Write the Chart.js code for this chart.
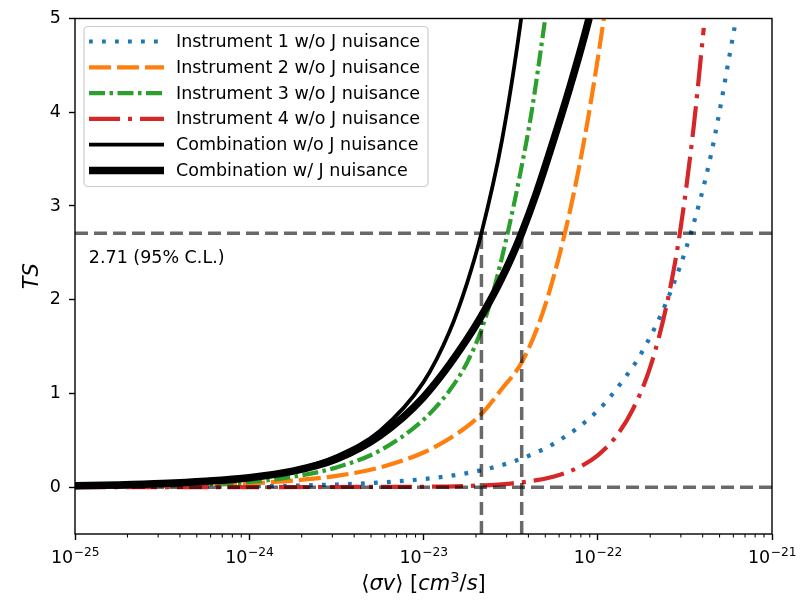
<!DOCTYPE html>
<html><head><meta charset="utf-8">
<script src="https://cdn.jsdelivr.net/npm/chart.js@4.4.1/dist/chart.umd.min.js"></script>
<style>html,body{margin:0;padding:0;background:#fff}</style>
</head><body>
<canvas id="c" width="808" height="600"></canvas>
<script>
// ---- data ----
const seriesNames = ['Instrument 1 w/o J nuisance','Instrument 2 w/o J nuisance','Instrument 3 w/o J nuisance','Instrument 4 w/o J nuisance','Combination w/o J nuisance','Combination w/ J nuisance'];

const inst1SigmaV = [1e-25, 1e-24, 3.16e-24, 5.62e-24, 1e-23, 1.78e-23, 3.16e-23, 5.62e-23, 1e-22, 1.41e-22, 1.78e-22, 2.51e-22, 3.42e-22, 4.47e-22, 6.12e-22];
const inst1TS     = [0.001, 0.009, 0.028, 0.049, 0.086, 0.15, 0.264, 0.466, 0.815, 1.15, 1.43, 2.0, 2.71, 3.55, 4.92];

const inst2SigmaV = [1e-25, 3.16e-25, 1e-24, 1.78e-24, 3.16e-24, 5.62e-24, 1e-23, 1.47e-23, 2.15e-23, 2.82e-23, 3.66e-23, 4.79e-23, 6.38e-23, 8.32e-23, 1.08e-22, 1.26e-22];
const inst2TS     = [0.005, 0.015, 0.04, 0.07, 0.12, 0.21, 0.37, 0.54, 0.78, 1.05, 1.33, 1.84, 2.66, 3.68, 4.98, 5.9];

const inst3SigmaV = [1e-25, 3.16e-25, 1e-24, 1.78e-24, 3.16e-24, 5.62e-24, 1e-23, 1.41e-23, 1.78e-23, 2.15e-23, 2.51e-23, 3.04e-23, 3.55e-23, 4.17e-23, 4.95e-23, 5.62e-23];
const inst3TS     = [0.005, 0.018, 0.055, 0.11, 0.21, 0.39, 0.72, 1.03, 1.33, 1.68, 2.08, 2.71, 3.30, 4.00, 4.95, 5.70];

const inst4SigmaV = [1e-25, 1e-23, 1.78e-23, 3.16e-23, 5.62e-23, 7.94e-23, 1e-22, 1.26e-22, 1.58e-22, 2.0e-22, 2.51e-22, 2.96e-22, 3.55e-22, 4.06e-22];
const inst4TS     = [0.0, 0.004, 0.013, 0.038, 0.114, 0.22, 0.34, 0.53, 0.82, 1.28, 1.98, 2.71, 3.84, 4.90];

const combNoJSigmaV = [1e-25, 3.16e-25, 1e-24, 1.78e-24, 3.16e-24, 5.62e-24, 1e-23, 1.41e-23, 1.78e-23, 2.15e-23, 2.82e-23, 3.61e-23, 3.98e-23];
const combNoJTS     = [0.015, 0.04, 0.10, 0.18, 0.33, 0.60, 1.12, 1.66, 2.18, 2.71, 3.70, 4.96, 5.60];

const combJSigmaV = [1e-25, 1.78e-25, 3.16e-25, 5.62e-25, 1e-24, 1.78e-24, 3.16e-24, 5.62e-24, 1e-23, 1.78e-23, 2.51e-23, 3.16e-23, 3.66e-23, 4.47e-23, 5.62e-23, 7.08e-23, 8.91e-23, 1.12e-22];
const combJTS     = [0.015, 0.024, 0.038, 0.062, 0.10, 0.17, 0.30, 0.55, 0.96, 1.58, 2.05, 2.43, 2.71, 3.15, 3.72, 4.33, 5.00, 5.80];

const thresholdTS = [0, 2.71];              // horizontal reference lines
const limitSigmaV = [2.15e-23, 3.66e-23];   // vertical limit lines
const annotText = '2.71 (95% C.L.)';
const annotSigmaV = 1.2e-25, annotTS = 2.39;

const xMajorTicks = [1e-25, 1e-24, 1e-23, 1e-22, 1e-21];
const xTickBase = '10';
const xTickExps = ['\u221225', '\u221224', '\u221223', '\u221222', '\u221221'];
const yTicks = [0, 1, 2, 3, 4, 5];
const xMinorTicks = [];
for (let e = -25; e < -21; e++) for (let m = 2; m <= 9; m++) xMinorTicks.push(m * Math.pow(10, e));

// ---- styling ----
const FONT = "'DejaVu Sans'";
const GRAY = 'rgba(0,0,0,0.59)';
const toPts = (xs, ys) => xs.map((v, i) => ({x: v, y: ys[i]}));

const curveStyles = [
  {color: '#1f77b4', width: 4.2, dash: [3.8, 9.2]},
  {color: '#ff7f0e', width: 4.2, dash: [22, 6]},
  {color: '#2ca02c', width: 4.2, dash: [16, 4.5, 3.5, 4.5]},
  {color: '#d62728', width: 4.2, dash: [31, 8, 4, 8]},
  {color: '#000000', width: 3.8, dash: []},
  {color: '#000000', width: 7.5, dash: []}
];
const curveData = [
  toPts(inst1SigmaV, inst1TS), toPts(inst2SigmaV, inst2TS), toPts(inst3SigmaV, inst3TS),
  toPts(inst4SigmaV, inst4TS), toPts(combNoJSigmaV, combNoJTS), toPts(combJSigmaV, combJTS)
];

const datasets = curveData.map((d, i) => ({
  label: seriesNames[i], data: d,
  borderColor: curveStyles[i].color, borderWidth: curveStyles[i].width,
  borderDash: curveStyles[i].dash, borderCapStyle: 'butt', borderJoinStyle: 'round',
  pointRadius: 0, fill: false, cubicInterpolationMode: 'monotone',
  clip: 0, order: 6 - i
}));
thresholdTS.forEach(t => datasets.push({
  label: 'h' + t, data: [{x: 1e-25, y: t}, {x: 1e-21, y: t}],
  borderColor: GRAY, borderWidth: 3.5, borderDash: [13, 6], pointRadius: 0,
  tension: 0, clip: 0, order: 0
}));
limitSigmaV.forEach(v => datasets.push({
  label: 'v' + v, data: [{x: v, y: -0.5}, {x: v, y: thresholdTS[1]}],
  borderColor: GRAY, borderWidth: 3.5, borderDash: [13, 6], pointRadius: 0,
  tension: 0, clip: 0, order: 0
}));

const extras = {
  id: 'extras',
  afterDraw(chart) {
    const {ctx, chartArea: a, scales: {x, y}} = chart;
    ctx.save();
    // annotation
    ctx.fillStyle = '#000';
    ctx.font = `17.5px ${FONT}`;
    ctx.textAlign = 'left'; ctx.textBaseline = 'alphabetic';
    ctx.fillText(annotText, x.getPixelForValue(annotSigmaV), y.getPixelForValue(annotTS));

    // frame
    ctx.strokeStyle = '#000'; ctx.lineWidth = 1.4; ctx.setLineDash([]);
    ctx.strokeRect(a.left, a.top, a.right - a.left, a.bottom - a.top);
    // minor ticks
    ctx.lineWidth = 1.05;
    xMinorTicks.forEach(v => {
      const px = x.getPixelForValue(v);
      ctx.beginPath(); ctx.moveTo(px, a.bottom); ctx.lineTo(px, a.bottom + 3.5); ctx.stroke();
    });
    // major tick labels 10^n
    xMajorTicks.forEach((v, i) => {
      const px = x.getPixelForValue(v);
      ctx.font = `17.5px ${FONT}`;
      const wb = ctx.measureText(xTickBase).width;
      ctx.font = `12.25px ${FONT}`;
      const we = ctx.measureText(xTickExps[i]).width;
      const x0 = px - (wb + we) / 2;
      ctx.textAlign = 'left';
      ctx.font = `17.5px ${FONT}`;
      ctx.fillText(xTickBase, x0, 563);
      ctx.font = `12.25px ${FONT}`;
      ctx.fillText(xTickExps[i], x0 + wb + 0.5, 556);
    });
    // x title: <σv> [cm^3/s]
    const segs = [
      {t: '\u27e8', f: `21px ${FONT}`, dy: 0},
      {t: '\u03c3v', f: `italic 21px ${FONT}`, dy: 0},
      {t: '\u27e9 [', f: `21px ${FONT}`, dy: 0},
      {t: 'cm', f: `italic 21px ${FONT}`, dy: 0},
      {t: '3', f: `14.7px ${FONT}`, dy: -8},
      {t: '/', f: `21px ${FONT}`, dy: 0},
      {t: 's', f: `italic 21px ${FONT}`, dy: 0},
      {t: ']', f: `21px ${FONT}`, dy: 0}
    ];
    let tw = 0;
    segs.forEach(s => { ctx.font = s.f; s.w = ctx.measureText(s.t).width; tw += s.w; });
    let cx = (a.left + a.right) / 2 - tw / 2;
    segs.forEach(s => { ctx.font = s.f; ctx.fillText(s.t, cx, 590 + s.dy); cx += s.w; });

    // legend
    const lx = a.left + 9, ly = a.top + 8, lw = 344, lh = 160, r = 4;
    ctx.beginPath();
    ctx.moveTo(lx + r, ly); ctx.lineTo(lx + lw - r, ly); ctx.arcTo(lx + lw, ly, lx + lw, ly + r, r);
    ctx.lineTo(lx + lw, ly + lh - r); ctx.arcTo(lx + lw, ly + lh, lx + lw - r, ly + lh, r);
    ctx.lineTo(lx + r, ly + lh); ctx.arcTo(lx, ly + lh, lx, ly + lh - r, r);
    ctx.lineTo(lx, ly + r); ctx.arcTo(lx, ly, lx + r, ly, r); ctx.closePath();
    ctx.fillStyle = 'rgba(255,255,255,0.8)'; ctx.fill();
    ctx.strokeStyle = '#cccccc'; ctx.lineWidth = 1.2; ctx.stroke();
    curveStyles.forEach((st, i) => {
      const yy = ly + 15 + i * 25.8;
      ctx.beginPath();
      ctx.strokeStyle = st.color; ctx.lineWidth = st.width;
      ctx.setLineDash(st.dash);
      ctx.lineCap = st.dash.length ? 'butt' : 'square';
      ctx.moveTo(lx + 5 + (st.dash.length ? 0 : st.width / 2), yy);
      ctx.lineTo(lx + 80 - (st.dash.length ? 0 : st.width / 2), yy);
      ctx.stroke();
      ctx.setLineDash([]);
      ctx.fillStyle = '#000'; ctx.font = `17.5px ${FONT}`;
      ctx.textBaseline = 'middle';
      ctx.fillText(seriesNames[i], lx + 92, yy + 1);
      ctx.textBaseline = 'alphabetic';
    });
    ctx.restore();
  }
};

new Chart(document.getElementById('c'), {
  type: 'line',
  data: {datasets},
  options: {
    responsive: false, animation: false, devicePixelRatio: 1,
    layout: {padding: {left: 0, right: 36, top: 15, bottom: 0}},
    plugins: {legend: {display: false}, tooltip: {enabled: false}},
    scales: {
      x: {
        type: 'logarithmic', min: 1e-25, max: 1e-21, position: 'bottom',
        afterBuildTicks: s => { s.ticks = xMajorTicks.map(v => ({value: v, major: true})); },
        afterFit: s => { s.height = 66; },
        border: {display: false},
        grid: {display: true, drawOnChartArea: false, drawTicks: true, tickLength: 6, tickWidth: 1.4, tickColor: '#000'},
        ticks: {display: true, callback: () => '', autoSkip: false, maxRotation: 0}
      },
      y: {
        type: 'linear', min: -0.5, max: 5,
        afterBuildTicks: s => { s.ticks = yTicks.map(v => ({value: v})); },
        afterFit: s => { s.width = 75; },
        border: {display: false},
        grid: {display: true, drawOnChartArea: false, drawTicks: true, tickLength: 6, tickWidth: 1.4, tickColor: '#000'},
        ticks: {color: '#000', padding: 8, font: {family: 'DejaVu Sans', size: 17.5}},
        title: {display: true, text: 'TS', color: '#000', font: {family: 'DejaVu Sans', size: 21, style: 'italic'}, padding: {top: 20, bottom: 0}}
      }
    }
  },
  plugins: [extras]
});
</script>
</body></html>
